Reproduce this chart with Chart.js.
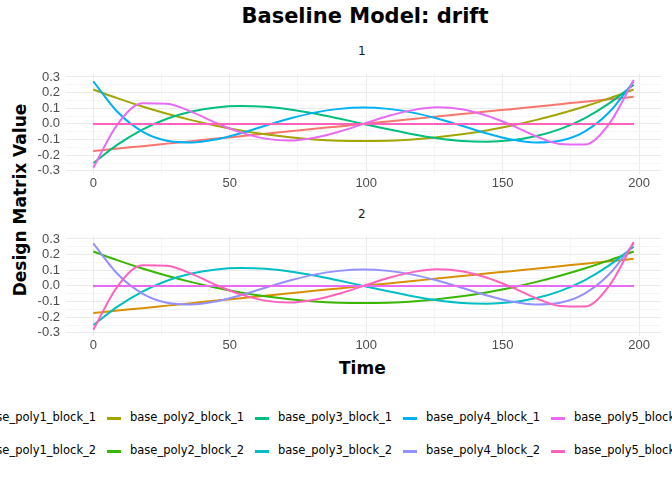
<!DOCTYPE html>
<html>
<head>
<meta charset="utf-8">
<script src="https://cdn.jsdelivr.net/npm/chart.js@4/dist/chart.umd.min.js"></script>
<style>
body { margin:0; width:672px; height:480px; overflow:hidden; background:#fff; font-family:"DejaVu Sans", sans-serif; position:relative; }
canvas { position:absolute; left:0; }
.txt { position:absolute; white-space:nowrap; }
.key { position:absolute; width:14px; height:3px; }
</style>
</head>
<body>
<div class="txt" style="top:4px;left:0;width:730px;text-align:center;font-size:21px;font-weight:bold;">Baseline Model: drift</div>
<div class="txt" style="top:44px;left:358px;font-size:12px;color:#1a1a1a;">1</div>
<div class="txt" style="top:207px;left:358px;font-size:12px;color:#1a1a1a;">2</div>
<div class="txt" style="top:200px;left:20px;font-size:17px;font-weight:bold;transform:translate(-50%,-50%) rotate(-90deg);">Design Matrix Value</div>
<div class="txt" style="top:358px;left:339px;font-size:17px;font-weight:bold;">Time</div>
<div style="position:absolute;left:0;top:60px;width:672px;height:134px;"><canvas id="c1"></canvas></div>
<div style="position:absolute;left:0;top:222px;width:672px;height:134px;"><canvas id="c2"></canvas></div>
<div id="legend"></div>
<script>
// time points (every 9 steps from 0 to 198)
const times = [0, 9, 18, 27, 36, 45, 54, 63, 72, 81, 90, 99, 108, 117, 126, 135, 144, 153, 162, 171, 180, 189, 198];

// values
const poly1 = [-0.173, -0.157, -0.142, -0.126, -0.110, -0.094, -0.079, -0.063, -0.047, -0.031, -0.016, 0, 0.016, 0.031, 0.047, 0.063, 0.079, 0.094, 0.110, 0.126, 0.142, 0.157, 0.173];
const poly2 = [0.22, 0.163, 0.111, 0.065, 0.024, -0.012, -0.042, -0.066, -0.085, -0.099, -0.107, -0.11, -0.107, -0.099, -0.085, -0.066, -0.042, -0.012, 0.024, 0.065, 0.111, 0.163, 0.22];
const poly3 = [-0.25, -0.131, -0.036, 0.033, 0.079, 0.105, 0.114, 0.109, 0.092, 0.066, 0.034, 0, -0.034, -0.066, -0.092, -0.109, -0.114, -0.105, -0.079, -0.033, 0.036, 0.131, 0.25];
const poly4 = [0.272, 0.074, -0.049, -0.108, -0.119, -0.099, -0.060, -0.012, 0.034, 0.072, 0.096, 0.105, 0.096, 0.072, 0.034, -0.012, -0.060, -0.099, -0.119, -0.108, -0.049, 0.074, 0.272];
const poly5 = [-0.28, 0.0, 0.132, 0.128, 0.077, 0.006, -0.054, -0.094, -0.106, -0.088, -0.050, 0, 0.050, 0.088, 0.106, 0.094, 0.054, -0.006, -0.077, -0.128, -0.132, 0.0, 0.28];
const zeros = times.map(() => 0);

const names = ['base_poly1', 'base_poly2', 'base_poly3', 'base_poly4', 'base_poly5'];
const colorsBlock1 = ['#F8766D', '#A3A500', '#00BF7D', '#00B0F6', '#E76BF3'];
const colorsBlock2 = ['#D89000', '#39B600', '#00BFC4', '#9590FF', '#FF62BC'];
const yTicks = [-0.3, -0.2, -0.1, 0.0, 0.1, 0.2, 0.3];
const xTicks = [0, 50, 100, 150, 200];

const curves = [poly1, poly2, poly3, poly4, poly5];

function pts(vals) { return times.map((t, i) => ({ x: t, y: vals[i] })); }

function buildDatasets(block) {
    const ds = [];
    // ggplot draws groups in legend order, the last one on top
    for (let k = 0; k < 5; k++) {
        ds.push({ label: names[k] + '_block_1', data: pts(block === 1 ? curves[k] : zeros), borderColor: colorsBlock1[k] });
        ds.push({ label: names[k] + '_block_2', data: pts(block === 2 ? curves[k] : zeros), borderColor: colorsBlock2[k] });
    }
    ds.forEach((d, i) => { d.order = ds.length - i; });
    return ds;
}

function makePanel(id, block) {
    new Chart(document.getElementById(id), {
        type: 'line',
        data: { datasets: buildDatasets(block) },
        options: {
            responsive: true,
            maintainAspectRatio: false,
            animation: false,
            layout: { padding: { top: 7, right: 11, left: 0, bottom: 0 } },
            elements: { point: { radius: 0 }, line: { borderWidth: 2, cubicInterpolationMode: 'monotone' } },
            plugins: { legend: { display: false }, tooltip: { enabled: false } },
            scales: {
                x: {
                    type: 'linear', min: -10, max: 208,
                    afterBuildTicks: s => { s.ticks = [0, 25, 50, 75, 100, 125, 150, 175, 200].map(v => ({ value: v })); },
                    ticks: { color: '#4D4D4D', font: { size: 13 }, padding: 2, maxRotation: 0, autoSkip: false,
                        callback: v => xTicks.includes(v) ? String(v) : '' },
                    grid: { color: ctx => (ctx.tick && ctx.tick.value % 50 === 0) ? '#EBEBEB' : '#F5F5F5', drawTicks: false, lineWidth: 1 },
                    border: { display: false },
                    afterFit: s => { s.height = 20; }
                },
                y: {
                    min: -0.32, max: 0.32,
                    afterBuildTicks: s => {
                        const t = [];
                        for (let v = -0.3; v <= 0.3001; v += 0.05) t.push({ value: Math.round(v * 100) / 100 });
                        s.ticks = t;
                    },
                    ticks: { color: '#4D4D4D', font: { size: 13 }, padding: 6, autoSkip: false,
                        callback: v => {
                            const m = yTicks.find(t => Math.abs(t - v) < 1e-6);
                            return m === undefined ? '' : m.toFixed(1);
                        } },
                    grid: { color: ctx => (ctx.tick && Math.abs(Math.round(ctx.tick.value * 10) - ctx.tick.value * 10) < 1e-6) ? '#EBEBEB' : '#F5F5F5', drawTicks: false },
                    border: { display: false },
                    afterFit: s => { s.width = 66; }
                }
            }
        }
    });
}

makePanel('c1', 1);
makePanel('c2', 2);

// legend (wider than the page, clipped at both sides like the original)
const legend = document.getElementById('legend');
for (let row = 0; row < 2; row++) {
    for (let k = 0; k < 5; k++) {
        const textX = -18 + k * 148;
        const y = row === 0 ? 410 : 443;
        const key = document.createElement('div');
        key.className = 'key';
        key.style.left = (textX - 23) + 'px';
        key.style.top = (y + 7) + 'px';
        key.style.background = row === 0 ? colorsBlock1[k] : colorsBlock2[k];
        legend.appendChild(key);
        const t = document.createElement('div');
        t.className = 'txt';
        t.style.left = textX + 'px';
        t.style.top = y + 'px';
        t.style.fontSize = '11.5px';
        t.textContent = names[k] + '_block_' + (row + 1);
        legend.appendChild(t);
    }
}
</script>
</body>
</html>
